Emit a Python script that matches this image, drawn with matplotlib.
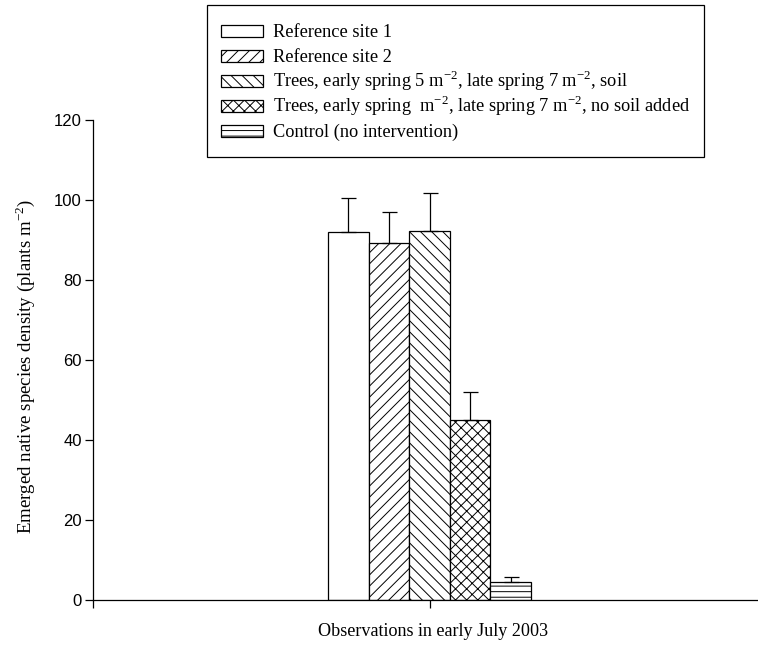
import numpy as np
import matplotlib
matplotlib.use("Agg")
import matplotlib.pyplot as plt
import matplotlib.patches as mpatches
from matplotlib.legend_handler import HandlerPatch

plt.rcParams['mathtext.fontset'] = 'custom'
plt.rcParams['mathtext.rm'] = 'Liberation Serif'
plt.rcParams['hatch.linewidth'] = 0.7

# data
labels = ["Reference site 1",
          "Reference site 2",
          r"Trees, early spring 5 m$^{\mathregular{-2}}$, late spring 7 m$^{\mathregular{-2}}$, soil",
          r"Trees, early spring  m$^{\mathregular{-2}}$, late spring 7 m$^{\mathregular{-2}}$, no soil added",
          "Control (no intervention)"]
density = [92.0, 89.3, 92.1, 44.9, 4.45]
err_up = [8.4, 7.6, 9.7, 7.1, 1.2]
hatches = ['', '///', '\\\\\\', 'xxx', '---']
yticks = [0, 20, 40, 60, 80, 100, 120]

serif = 'Liberation Serif'
sans = 'Liberation Sans'
fs = 13.2

fig = plt.figure(figsize=(7.58, 6.47), dpi=100)
W, H = 758, 647
ax = fig.add_axes([93 / W, (H - 599.5) / H, (758 - 93) / W, (599.5 - 120) / H])

xpos = np.arange(len(density)) - 2
handles = []
for i in range(len(density)):
    b = ax.bar(xpos[i], density[i], width=1.0, color='white', edgecolor='black',
               linewidth=0.9, hatch=hatches[i], label=labels[i], zorder=2)
    handles.append(b.patches[0])
ax.errorbar(xpos, density, yerr=[np.zeros(len(err_up)), err_up], fmt='none',
            ecolor='black', elinewidth=0.9, capsize=5.4, capthick=0.9, zorder=3)

x0 = -8.29
ax.set_xlim(x0, 8.09)
ax.set_ylim(0, 120)
ax.set_yticks(yticks)
ax.set_xticks([x0, 0])
ax.set_xticklabels(['', ''])
ax.tick_params(axis='both', direction='out', length=6, width=0.9, color='black')
ax.tick_params(axis='y', pad=2)
for lbl in ax.get_yticklabels():
    lbl.set_fontfamily(sans)
    lbl.set_fontsize(12)
ax.spines['top'].set_visible(False)
ax.spines['right'].set_visible(False)
ax.spines['left'].set_linewidth(0.9)
ax.spines['bottom'].set_linewidth(0.9)

ax.set_ylabel(r"Emerged native species density (plants m$^{\mathregular{-2}}$)",
              fontfamily=serif, fontsize=13.6)
ax.yaxis.set_label_coords(-0.084, 0.487)
fig.text(433 / W, 1 - 632 / H, "Observations in early July 2003",
         fontfamily=serif, fontsize=13.1, ha='center', va='center')


def small_box(legend, orig_handle, xdescent, ydescent, width, height, fontsize):
    h = 9.0
    return mpatches.Rectangle((-xdescent, -ydescent + (height - h) / 2), width, h)


leg = fig.legend(handles=handles, labels=labels, loc='upper left',
                 bbox_to_anchor=(207 / W, 1 - 5 / H), bbox_transform=fig.transFigure,
                 prop={'family': serif, 'size': fs}, frameon=True, fancybox=False,
                 edgecolor='black', framealpha=1, handlelength=2.3, handleheight=1.72,
                 handletextpad=0.55, labelspacing=0.0, borderpad=0.75, borderaxespad=0,
                 handler_map={mpatches.Rectangle: HandlerPatch(patch_func=small_box)})
leg.get_frame().set_linewidth(0.9)

fig.savefig("out.png", dpi=100)
